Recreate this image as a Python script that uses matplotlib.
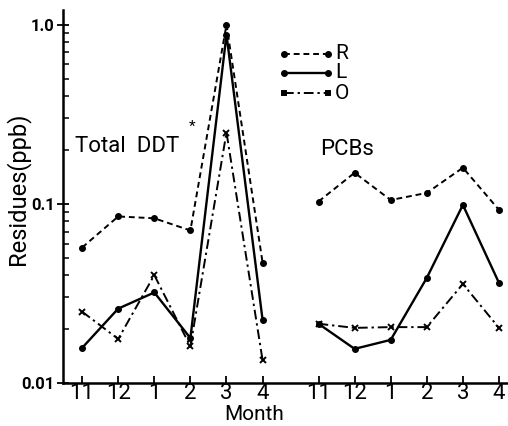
import numpy as np
from matplotlib import pyplot as plt
from matplotlib.ticker import FixedLocator, LogLocator, NullFormatter

plt.rcParams['font.family'] = ['Roboto', 'DejaVu Sans']

# months sampled in each panel, x positions in axis units
months = ["11", "12", "1", "2", "3", "4"]
ddt_x = [0, 1, 2, 3, 4, 5]
pcb_x = [6.55, 7.55, 8.55, 9.55, 10.55, 11.55]

# Total DDT residues (ppb)
ddt_R = [0.057, 0.085, 0.083, 0.071, 1.0, 0.047]
ddt_L = [0.0157, 0.026, 0.032, 0.0178, 0.88, 0.0225]
ddt_O = [0.025, 0.0176, 0.040, 0.016, 0.25, 0.0134]

# PCB residues (ppb)
pcb_R = [0.103, 0.149, 0.105, 0.115, 0.159, 0.0925]
pcb_L = [0.0214, 0.0155, 0.0174, 0.0386, 0.0986, 0.0362]
pcb_O = [0.0214, 0.0203, 0.0205, 0.0205, 0.0357, 0.0203]

series_names = ["R", "L", "O"]

fig = plt.figure(figsize=(5.08, 4.26), dpi=100)
ax = fig.add_axes([0.124, 0.101, 0.876, 0.876])

styles = {
    "R": dict(ls=(0, (3, 2)), lw=1.4, marker="o", ms=4),
    "L": dict(ls="-", lw=1.7, marker="o", ms=4),
    "O": dict(ls=(0, (5, 2, 1.2, 2)), lw=1.4, marker="x", ms=4, mew=1.4),
}
for xs, data in [(ddt_x, [ddt_R, ddt_L, ddt_O]), (pcb_x, [pcb_R, pcb_L, pcb_O])]:
    for name, ys in zip(series_names, data):
        ax.plot(xs, ys, color="black", **styles[name])

# hand-drawn style legend: short segments with the letter to the right
leg_vals = [0.69, 0.54, 0.415]
for name, yv in zip(series_names, leg_vals):
    st = dict(styles[name])
    if name == "O":
        st["marker"] = "s"
        st["ms"] = 2.5
    ax.plot([5.6, 6.8], [yv, yv], color="black", **st)
    ax.text(7.0, yv, name, fontsize=15, va="center", ha="left")

ax.set_yscale("log")
ax.set_ylim(0.01, 1.21)
ax.set_xlim(-0.53, 11.8)

ax.yaxis.set_major_locator(FixedLocator([0.01, 0.1, 1.0]))
ax.set_yticklabels(["0.01", "0.1", "1.0"], fontsize=12, fontweight="bold")
ax.yaxis.set_minor_locator(LogLocator(base=10, subs=np.arange(2, 10)))
ax.yaxis.set_minor_formatter(NullFormatter())
ax.tick_params(axis="y", which="major", direction="inout", length=8, width=1.3, pad=2)
ax.tick_params(axis="y", which="minor", direction="in", length=4, width=1.1)

ax.set_xticks(ddt_x + pcb_x)
ax.set_xticklabels(months + months, fontsize=16)
ax.tick_params(axis="x", direction="in", length=5, width=1.3, pad=0)

for side in ["top", "right"]:
    ax.spines[side].set_visible(False)
for side in ["left", "bottom"]:
    ax.spines[side].set_linewidth(1.8)

fig.text(0.5, 0.004, "Month", fontsize=15, ha="center", va="bottom")
ax.set_ylabel("Residues(ppb)", fontsize=17)
ax.yaxis.set_label_coords(-0.075, 0.52)

ax.text(-0.2, 0.21, "Total  DDT", fontsize=16, va="center", ha="left")
ax.text(2.95, 0.27, "*", fontsize=11, va="center", ha="left")
ax.text(6.6, 0.2, "PCBs", fontsize=16, va="center", ha="left")

fig.savefig("out.png", dpi=100)
